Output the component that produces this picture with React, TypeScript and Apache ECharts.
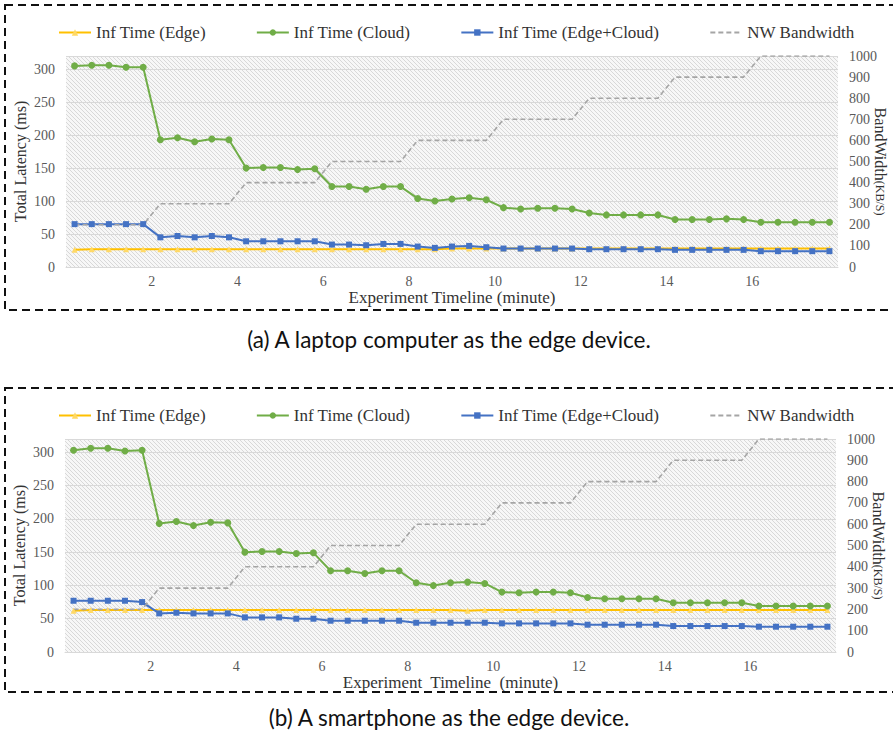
import React, { useEffect, useRef } from "react";
import * as echarts from "echarts";

const times = [0.2, 0.6, 1.0, 1.4, 1.8, 2.2, 2.6, 3.0, 3.4, 3.8, 4.2, 4.6, 5.0, 5.4, 5.8, 6.2, 6.6, 7.0, 7.4, 7.8, 8.2, 8.6, 9.0, 9.4, 9.8, 10.2, 10.6, 11.0, 11.4, 11.8, 12.2, 12.6, 13.0, 13.4, 13.8, 14.2, 14.6, 15.0, 15.4, 15.8, 16.2, 16.6, 17.0, 17.4, 17.8];

const laptopEdge = [26, 27, 27, 27, 27, 27, 27, 27, 27, 27, 27, 27, 27, 27, 27, 27, 27, 27, 27, 27, 27, 27, 28, 28, 28, 28, 28, 28, 28, 28, 28, 28, 28, 28, 28, 28, 28, 28, 28, 28, 28, 28, 28, 28, 28];
const laptopCloud = [305, 306, 306, 303, 303, 193, 196, 190, 194, 193, 150, 151, 151, 148, 149, 122, 122, 118, 122, 122, 104, 100, 103, 105, 102, 90, 88, 89, 89, 88, 82, 79, 79, 79, 79, 72, 72, 72, 73, 72, 68, 68, 68, 68, 68];
const laptopEdgeCloud = [65, 65, 65, 65, 65, 45, 47, 45, 47, 45, 39, 39, 39, 39, 39, 34, 34, 33, 35, 35, 31, 29, 31, 32, 30, 28, 28, 28, 28, 28, 27, 27, 27, 27, 27, 26, 26, 26, 26, 26, 24, 24, 24, 24, 24];

const phoneEdge = [62, 63, 63, 63, 63, 63, 63, 63, 63, 63, 63, 63, 63, 63, 63, 63, 63, 63, 63, 63, 63, 63, 63, 62, 63, 63, 63, 63, 63, 63, 63, 63, 63, 63, 63, 63, 63, 63, 63, 63, 63, 63, 63, 63, 63];
const phoneCloud = [303, 306, 306, 302, 303, 193, 196, 190, 195, 194, 150, 151, 151, 148, 149, 122, 122, 118, 122, 122, 104, 100, 104, 105, 103, 90, 89, 90, 90, 89, 82, 80, 80, 80, 80, 74, 74, 74, 74, 74, 69, 69, 69, 69, 69];
const phoneEdgeCloud = [77, 77, 77, 77, 75, 58, 59, 58, 58, 58, 52, 52, 52, 50, 50, 47, 47, 47, 47, 47, 44, 44, 44, 44, 44, 43, 43, 43, 43, 43, 41, 41, 41, 41, 41, 39, 39, 39, 39, 39, 38, 38, 38, 38, 38];

const bandwidth = [200, 200, 200, 200, 200, 300, 300, 300, 300, 300, 400, 400, 400, 400, 400, 500, 500, 500, 500, 500, 600, 600, 600, 600, 600, 700, 700, 700, 700, 700, 800, 800, 800, 800, 800, 900, 900, 900, 900, 900, 1000, 1000, 1000, 1000, 1000];

const seriesNames = ["Inf Time (Edge)", "Inf Time (Cloud)", "Inf Time (Edge+Cloud)", "NW Bandwidth"];
const captions = ["(a) A laptop computer as the edge device.", "(b) A smartphone as the edge device."];
const xTitles = ["Experiment Timeline (minute)", "Experiment  Timeline  (minute)"];

const SERIF = "Liberation Serif";

const hatchSvg =
  "<svg xmlns='http://www.w3.org/2000/svg' width='4' height='4'>" +
  "<rect width='4' height='4' fill='#f7f7f7'/>" +
  "<path d='M-1,-1 L5,5 M-1,3 L1,5 M3,-1 L5,1' stroke='#d8d8d8' stroke-width='1'/></svg>";
const hatchUrl = "data:image/svg+xml;charset=utf-8," + encodeURIComponent(hatchSvg);

const pair = (xs: number[], ys: number[]) => xs.map((x, i) => [x, ys[i]]);

export default function App() {
  const ref = useRef<HTMLDivElement>(null);
  useEffect(() => {
    if (!ref.current) return;
    const chart = echarts.init(ref.current, null, { renderer: "svg" });

    const grids = [
      { left: 66, top: 56, width: 772, height: 211 },
      { left: 65, top: 439, width: 771, height: 213 },
    ];
    const borders = [
      { y: 5, h: 305 },
      { y: 388, h: 304 },
    ];
    const captionY = [339, 717];
    const legendTop = [19, 402];

    const datasets = [
      [laptopEdge, laptopCloud, laptopEdgeCloud, bandwidth],
      [phoneEdge, phoneCloud, phoneEdgeCloud, bandwidth],
    ];

    const xAxis: any[] = [];
    const yAxis: any[] = [];
    const series: any[] = [];
    const legend: any[] = [];
    const graphic: any[] = [];

    grids.forEach((g, gi) => {
      graphic.push({
        type: "rect",
        z: -10,
        shape: { x: g.left, y: g.top, width: g.width, height: g.height },
        style: { fill: { image: hatchUrl, repeat: "repeat", imageWidth: 4, imageHeight: 4 } as any },
        silent: true,
      });
      graphic.push({
        type: "rect",
        z: 100,
        shape: { x: 5, y: borders[gi].y, width: 900, height: borders[gi].h },
        style: { fill: "none", stroke: "#111", lineWidth: 2, lineDash: [8, 5] },
        silent: true,
      });
      graphic.push({
        type: "text",
        z: 100,
        x: 449,
        y: captionY[gi],
        style: {
          text: captions[gi],
          font: "22.5px Lato, 'Open Sans', sans-serif",
          fill: "#111",
          textAlign: "center",
          textVerticalAlign: "middle",
        },
      });

      xAxis.push({
        type: "value",
        gridIndex: gi,
        min: 0,
        max: 18,
        interval: 2,
        axisLine: { show: true, lineStyle: { color: "#d9d9d9" } },
        axisTick: { show: false },
        splitLine: { show: false },
        axisLabel: {
          showMinLabel: false,
          showMaxLabel: false,
          color: "#595959",
          fontFamily: SERIF,
          fontSize: 14,
          margin: 7,
        },
        name: xTitles[gi],
        nameLocation: "middle",
        nameGap: 22,
        nameMoveOverlap: false,
        nameTextStyle: { color: "#333", fontFamily: SERIF, fontSize: 17 },
      });
      yAxis.push({
        type: "value",
        gridIndex: gi,
        position: "left",
        min: 0,
        max: 320,
        interval: 50,
        axisLine: { show: false },
        axisTick: { show: false },
        splitLine: { show: true, lineStyle: { color: "#d9d9d9", width: 1 } },
        axisLabel: { showMaxLabel: false, color: "#595959", fontFamily: SERIF, fontSize: 14, margin: 11 },
        name: "Total Latency (ms)",
        nameLocation: "middle",
        nameGap: 38,
        nameMoveOverlap: false,
        nameTextStyle: { color: "#333", fontFamily: SERIF, fontSize: 16 },
      });
      yAxis.push({
        type: "value",
        gridIndex: gi,
        position: "right",
        min: 0,
        max: 1000,
        interval: 100,
        axisLine: { show: false },
        axisTick: { show: false },
        splitLine: { show: false },
        axisLabel: {
          color: "#595959",
          fontFamily: SERIF,
          fontSize: 14,
          margin: 11,
          formatter: (v: number) => String(v),
        },
        name: "{a|BandWidth}{b|(KB/S)}",
        nameLocation: "middle",
        nameRotate: -90,
        nameGap: 34,
        nameMoveOverlap: false,
        nameTextStyle: {
          color: "#333",
          fontFamily: SERIF,
          rich: {
            a: { fontFamily: SERIF, fontSize: 16, color: "#333" },
            b: { fontFamily: SERIF, fontSize: 12, color: "#333" },
          },
        },
      });

      const d = datasets[gi];
      const common = { xAxisIndex: gi, type: "line", animation: false };
      series.push({
        ...common,
        name: seriesNames[0],
        yAxisIndex: gi * 2,
        data: pair(times, d[0]),
        symbol: "triangle",
        symbolSize: 6,
        lineStyle: { color: "#FFC000", width: 2 },
        itemStyle: { color: "#FFD966" },
      });
      series.push({
        ...common,
        name: seriesNames[1],
        yAxisIndex: gi * 2,
        data: pair(times, d[1]),
        symbol: "circle",
        symbolSize: 7,
        lineStyle: { color: "#70AD47", width: 2 },
        itemStyle: { color: "#70AD47" },
      });
      series.push({
        ...common,
        name: seriesNames[2],
        yAxisIndex: gi * 2,
        data: pair(times, d[2]),
        symbol: "rect",
        symbolSize: 6,
        lineStyle: { color: "#4472C4", width: 2 },
        itemStyle: { color: "#4472C4" },
      });
      series.push({
        ...common,
        name: seriesNames[3],
        yAxisIndex: gi * 2 + 1,
        data: pair(times, d[3]),
        showSymbol: false,
        symbol: "none",
        lineStyle: { color: "#A5A5A5", width: 1.6, type: [5, 3] },
        itemStyle: { color: "#A5A5A5" },
      });

      legend.push({
        data: [
          seriesNames[0],
          seriesNames[1],
          seriesNames[2],
          { name: seriesNames[3], itemStyle: { color: "rgba(0,0,0,0)", borderWidth: 0, opacity: 0 } },
        ],
        left: 53,
        top: legendTop[gi],
        itemGap: 50,
        itemWidth: 32,
        itemHeight: 8,
        textStyle: { color: "#333", fontFamily: SERIF, fontSize: 17 },
        selectedMode: false,
      });
    });

    chart.setOption({
      animation: false,
      backgroundColor: "#fff",
      grid: grids.map((g) => ({ ...g, containLabel: false, outerBoundsMode: "none" })),
      xAxis,
      yAxis,
      series,
      legend,
      graphic,
    });
    return () => chart.dispose();
  }, []);

  return (
    <div
      ref={ref}
      style={{ position: "absolute", left: 0, top: 0, width: 893, height: 735 }}
    />
  );
}
